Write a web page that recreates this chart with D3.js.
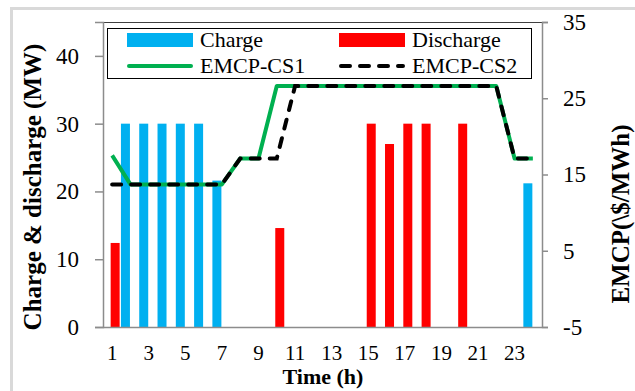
<!DOCTYPE html>
<html>
<head>
<meta charset="utf-8">
<script src="https://cdn.jsdelivr.net/npm/d3@7"></script>
<style>
  body { margin: 0; background: #fff; }
  text { font-family: "Liberation Serif", "Times New Roman", serif; fill: #000; }
</style>
</head>
<body>
<div id="chart"></div>
<script>
// data
const hours = [1, 2, 3, 4, 5, 6, 7, 8, 9, 10, 11, 12, 13, 14, 15, 16, 17, 18, 19, 20, 21, 22, 23, 24];
const charge = [0, 30, 30, 30, 30, 30, 21.6, 0, 0, 0, 0, 0, 0, 0, 0, 0, 0, 0, 0, 0, 0, 0, 0, 21.2];
const discharge = [12.4, 0, 0, 0, 0, 0, 0, 0, 0, 14.6, 0, 0, 0, 0, 30, 27, 30, 30, 0, 30, 0, 0, 0, 0];
const emcpCS1 = [17.5, 13.7, 13.7, 13.7, 13.7, 13.7, 13.7, 17.1, 17.1, 26.6, 26.6, 26.6, 26.6, 26.6, 26.6, 26.6, 26.6, 26.6, 26.6, 26.6, 26.6, 26.6, 17.1, 17.1];
const emcpCS2 = [13.7, 13.7, 13.7, 13.7, 13.7, 13.7, 13.7, 17.1, 17.1, 17.1, 26.6, 26.6, 26.6, 26.6, 26.6, 26.6, 26.6, 26.6, 26.6, 26.6, 26.6, 26.6, 17.1, 17.1];
const leftTicks = [0, 10, 20, 30, 40];
const rightTicks = [-5, 5, 15, 25, 35];
const xTickLabels = [1, 3, 5, 7, 9, 11, 13, 15, 17, 19, 21, 23];

const W = 635, H = 391;
const margin = { top: 22, right: 93, bottom: 64, left: 103 },
    width = W - margin.left - margin.right,
    height = H - margin.top - margin.bottom;

const svg0 = d3.select("#chart")
    .append("svg")
    .attr("width", W)
    .attr("height", H);

// outer light frame
svg0.append("rect")
    .attr("x", 11.5).attr("y", 8.5)
    .attr("width", 700).attr("height", 500)
    .attr("fill", "none")
    .attr("stroke", "#d9d9d9")
    .attr("stroke-width", 3);

const svg = svg0.append("g")
    .attr("transform", `translate(${margin.left}, ${margin.top})`);

const x = d3.scaleBand().domain(hours).range([0, width]).padding(0);
const yL = d3.scaleLinear().domain([0, 45]).range([height, 0]);
const yR = d3.scaleLinear().domain([-5, 35]).range([height, 0]);

const cx = h => x(h) + x.bandwidth() / 2;

// plot area top border
svg.append("line")
    .attr("x1", 0).attr("x2", width)
    .attr("y1", 0.5).attr("y2", 0.5)
    .attr("stroke", "#404040");

// bars
const barW = 9;
svg.selectAll("rect.charge")
    .data(hours.map((h, i) => [h, charge[i]]).filter(d => d[1] > 0))
    .enter().append("rect")
    .attr("class", "charge")
    .attr("x", d => cx(d[0]) - 9.5)
    .attr("y", d => yL(d[1]))
    .attr("width", barW)
    .attr("height", d => yL(0) - yL(d[1]))
    .attr("fill", "#00b0f0");

svg.selectAll("rect.discharge")
    .data(hours.map((h, i) => [h, discharge[i]]).filter(d => d[1] > 0))
    .enter().append("rect")
    .attr("class", "discharge")
    .attr("x", d => cx(d[0]) - 1.5)
    .attr("y", d => yL(d[1]))
    .attr("width", barW)
    .attr("height", d => yL(0) - yL(d[1]))
    .attr("fill", "#ff0000");

// axes
const gray = "#8c8c8c";
const fmt = d => String(d);
const axL = svg.append("g")
    .call(d3.axisLeft(yL).tickValues(leftTicks).tickFormat(fmt).tickSize(8).tickPadding(16));
const axR = svg.append("g")
    .attr("transform", `translate(${width}, 0)`)
    .call(d3.axisRight(yR).tickValues(rightTicks).tickFormat(fmt).tickSize(6).tickPadding(15));
const axB = svg.append("g")
    .attr("transform", `translate(0, ${height})`)
    .call(d3.axisBottom(x).tickValues(xTickLabels).tickFormat(fmt).tickSize(0).tickPadding(18));

[axL, axR, axB].forEach(a => {
    a.select(".domain").attr("stroke", gray).attr("stroke-width", 1.5);
    a.selectAll(".tick line").attr("stroke", gray).attr("stroke-width", 1.5);
    a.selectAll("text").style("font-size", "23px").attr("fill", "#000");
});
axB.selectAll("text").style("font-size", "21px");
axB.select(".domain").attr("d", `M0,0.5H${width}`);

// lines
const line = vals => d3.line()
    .x((d, i) => cx(hours[i]))
    .y(d => yR(d))(vals);

svg.append("path")
    .attr("d", line(emcpCS1))
    .attr("fill", "none")
    .attr("stroke", "#00b050")
    .attr("stroke-width", 4)
    .attr("stroke-linejoin", "round");

svg.append("path")
    .attr("d", line(emcpCS2))
    .attr("fill", "none")
    .attr("stroke", "#000")
    .attr("stroke-width", 4)
    .attr("stroke-dasharray", "9,10")
    .attr("stroke-linecap", "round");

// legend
const lg = svg0.append("g");
lg.append("rect")
    .attr("x", 107.5).attr("y", 28.5)
    .attr("width", 424).attr("height", 50)
    .attr("fill", "#fff")
    .attr("stroke", "#000");

const legendItems = [
    { name: "Charge", type: "bar", color: "#00b0f0", x: 127, y: 40 },
    { name: "Discharge", type: "bar", color: "#ff0000", x: 339, y: 40 },
    { name: "EMCP-CS1", type: "line", color: "#00b050", x: 127, y: 66 },
    { name: "EMCP-CS2", type: "dash", color: "#000", x: 339, y: 66 }
];
legendItems.forEach(d => {
    if (d.type === "bar") {
        lg.append("rect")
            .attr("x", d.x).attr("y", d.y - 7)
            .attr("width", 66).attr("height", 14)
            .attr("fill", d.color);
    } else {
        const l = lg.append("line")
            .attr("x1", d.x + 2).attr("x2", d.x + 64)
            .attr("y1", d.y).attr("y2", d.y)
            .attr("stroke", d.color)
            .attr("stroke-width", 4)
            .attr("stroke-linecap", "round");
        if (d.type === "dash") l.attr("stroke-dasharray", "9,10");
    }
    lg.append("text")
        .attr("x", d.x + 73).attr("y", d.y + 7)
        .style("font-size", "22px")
        .text(d.name);
});

// axis titles
svg0.append("text")
    .attr("transform", "translate(41, 187) rotate(-90)")
    .attr("text-anchor", "middle")
    .style("font-size", "25px")
    .style("font-weight", "bold")
    .text("Charge & discharge (MW)");

svg0.append("text")
    .attr("transform", "translate(629, 214) rotate(-90)")
    .attr("text-anchor", "middle")
    .style("font-size", "25px")
    .style("font-weight", "bold")
    .text("EMCP(\\$/MWh)");

svg0.append("text")
    .attr("x", 323).attr("y", 384)
    .attr("text-anchor", "middle")
    .style("font-size", "22px")
    .style("font-weight", "bold")
    .text("Time (h)");
</script>
</body>
</html>
